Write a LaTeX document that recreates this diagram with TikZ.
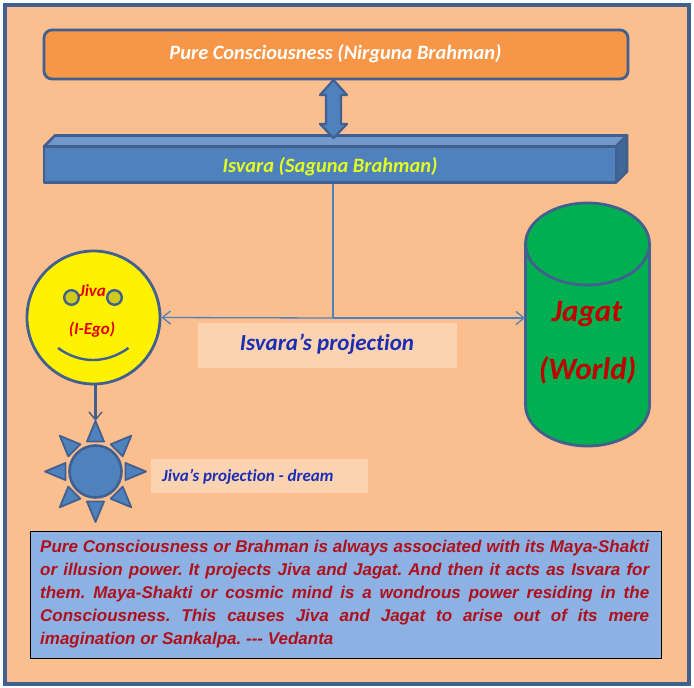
\documentclass[tikz,border=0pt]{standalone}
\usepackage{fontspec}
\setmainfont[Ligatures=NoCommon]{Carlito}
\newfontfamily\arialfont{Liberation Sans}
\usetikzlibrary{arrows.meta,calc}
\definecolor{bgpeach}{HTML}{FBBE8E}
\definecolor{frameblue}{HTML}{41608F}
\definecolor{orangefill}{HTML}{F79646}
\definecolor{barblue}{HTML}{4F81BD}
\definecolor{bartop}{HTML}{7299CB}
\definecolor{barside}{HTML}{3F6797}
\definecolor{palebox}{HTML}{FCD3B0}
\definecolor{textblue}{HTML}{1A2DB5}
\definecolor{noteblue}{HTML}{8DB1E2}
\definecolor{notered}{HTML}{B00F1B}
\definecolor{jagatgreen}{HTML}{00B050}
\definecolor{jagatred}{HTML}{C00000}
\definecolor{eyefill}{HTML}{CFCB1A}
\definecolor{isvarayellow}{HTML}{E2FF1E}
\newcommand{\noteline}[1]{\hbox to 609pt{#1}}
\frenchspacing
\tikzset{
  x=1pt,y=-1pt,
  shapeline/.style={draw=frameblue,line width=2.8pt,line join=round},
  thinline/.style={draw=barblue,line width=1.3pt},
  thinarrow/.style={thinline,-{Straight Barb[length=8pt,width=13pt,line width=1.3pt]}},
  sunray/.style={fill=barblue,draw=frameblue,line width=1.8pt,line join=round},
}
\begin{document}
\begin{tikzpicture}
\useasboundingbox (0,0) rectangle (694,688);
\fill[white] (0,0) rectangle (694,688);
\draw[fill=bgpeach,draw=frameblue,line width=3.4pt] (5,5) rectangle (689,684);

% top box
\node[shapeline,fill=orangefill,rounded corners=8pt,minimum width=584pt,minimum height=49pt,inner sep=0pt] (pure) at (336,54.5) {};
\node[font=\fontsize{20.4}{24}\selectfont\bfseries\itshape,text=white,inner sep=0pt] at (335.5,53.5) {Pure Consciousness (Nirguna Brahman)};

% cuboid
\draw[shapeline,fill=bartop] (44,146.5) -- (55,135.5) -- (627,135.5) -- (616,146.5) -- cycle;
\draw[shapeline,fill=barside] (616,146.5) -- (627,135.5) -- (627,171.5) -- (616,182.5) -- cycle;
\node[shapeline,fill=barblue,minimum width=572pt,minimum height=36pt,inner sep=0pt] (isvara) at (330,164.5) {};
\node[font=\fontsize{20.4}{24}\selectfont\bfseries\itshape,text=isvarayellow,inner sep=0pt] at (330,167) {Isvara (Saguna Brahman)};

% double arrow
\draw[fill=barblue,draw=frameblue,line width=2.2pt,line join=round]
  (333.5,80) -- (347,95) -- (341,95) -- (341,124) -- (347,124) -- (333.5,138) -- (320,124) -- (326,124) -- (326,95) -- (320,95) -- cycle;

% Jagat cylinder
\draw[shapeline,fill=jagatgreen] (525.5,244) -- (525.5,405) arc[x radius=62,y radius=41,start angle=180,end angle=0] -- (649.5,244);
\draw[shapeline,fill=jagatgreen] (587.5,244) ellipse[x radius=62,y radius=41];
\coordinate (jagatW) at (525,318);
\node[font=\fontsize{31}{36}\selectfont\bfseries\itshape,text=jagatred,inner sep=0pt] at (587,314) {Jagat};
\node[font=\fontsize{31}{36}\selectfont\bfseries\itshape,text=jagatred,inner sep=0pt] at (587.5,370) {(World)};

% Jiva face
\node[circle,draw=frameblue,line width=2.8pt,fill=yellow,minimum size=133pt,inner sep=0pt] (jiva) at (93.5,317.5) {};
\draw[draw=frameblue,line width=2.4pt,fill=eyefill] (71.5,297.5) circle[radius=7.3];
\draw[draw=frameblue,line width=2.4pt,fill=eyefill] (114.5,297.5) circle[radius=7.3];
\draw[draw=frameblue,line width=2.4pt] (58,348) .. controls (80,364) and (106,364) .. (128.5,348);
\node[font=\fontsize{17}{20}\selectfont\bfseries\itshape,text=red!90!black,inner sep=0pt] at (92.5,290.5) {Jiva};
\node[font=\fontsize{17}{20}\selectfont\bfseries\itshape,text=red!90!black,inner sep=0pt] at (92,329.5) {(I-Ego)};

% connectors
\coordinate (junction) at (333,318);
\draw[thinline] (isvara.south -| junction) -- (junction);
\draw[thinarrow] (junction) -- (jiva.east);
\draw[thinarrow] (junction) -- (jagatW);

% projection label
\node[fill=palebox,minimum width=259pt,minimum height=45pt,inner sep=0pt] (proj) at (327.5,345.5) {};
\node[font=\fontsize{23}{27}\selectfont\bfseries\itshape,text=textblue,inner sep=0pt] at (327,344.5) {Isvara’s projection};

% sun
\node[circle,draw=frameblue,line width=2.6pt,fill=barblue,minimum size=52pt,inner sep=0pt] (sun) at (95.5,471.5) {};
\foreach \a in {0,45,...,315}{
  \draw[sunray,rotate around={\a:(95.5,471.5)}] (95.5,421) -- (104,441.5) -- (87,441.5) -- cycle;
}
\coordinate (suntip) at (95.5,421);
\draw[draw=frameblue,line width=2.2pt,-{Straight Barb[length=8pt,width=13pt,line width=1.4pt]}] (jiva.south -| suntip) -- (suntip);

% dream label
\node[fill=palebox,minimum width=217pt,minimum height=34pt,inner sep=0pt] (dream) at (259.5,476) {};
\node[font=\fontsize{17}{20}\selectfont\bfseries\itshape,text=textblue,inner sep=0pt,anchor=west] at (162,477) {Jiva’s projection - dream};

% note
\node[draw=black,line width=1pt,fill=noteblue,minimum width=631pt,minimum height=127pt,inner sep=0pt] (note) at (345.5,594.5) {};
\node[inner sep=0pt,anchor=north west,text=notered,align=left,
      font=\arialfont\fontsize{17}{23}\selectfont\bfseries\itshape] (notetext) at (40,540) {%
  \noteline{Pure Consciousness or Brahman is always associated with its Maya-Shakti}\\
  \noteline{or illusion power. It projects Jiva and Jagat. And then it acts as Isvara for}\\
  \noteline{them. Maya-Shakti or cosmic mind is a wondrous power residing in the}\\
  \noteline{Consciousness. This causes Jiva and Jagat to arise out of its mere}\\
  imagination or Sankalpa. --- Vedanta};
\end{tikzpicture}
\end{document}
